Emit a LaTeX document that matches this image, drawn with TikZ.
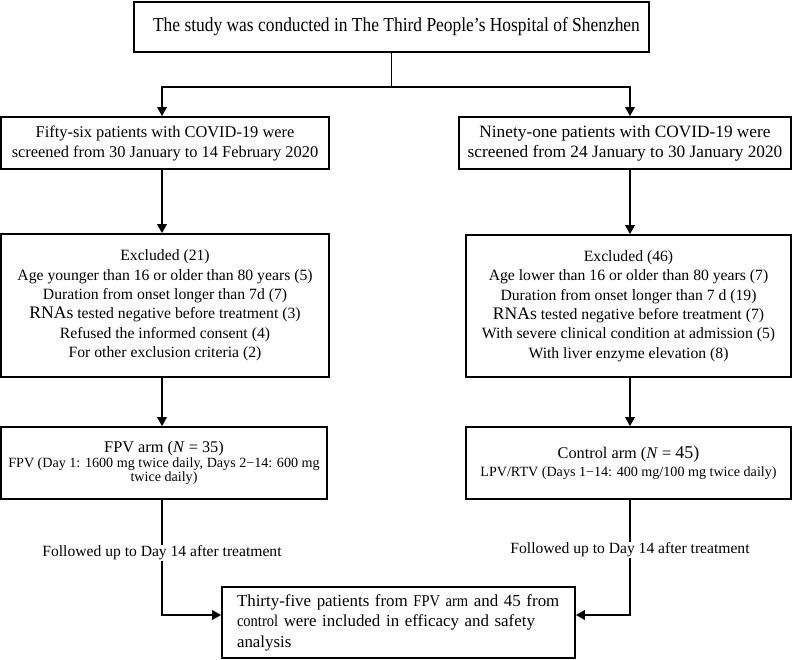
\documentclass[tikz,border=0pt]{standalone}
\usepackage{fontspec}
\setmainfont{Liberation Serif}
\newfontfamily\condf[FakeStretch=0.88]{Liberation Serif}
\usetikzlibrary{arrows.meta,calc}
\newcommand\smalldose{\fontsize{14.1pt}{17pt}\selectfont}
\newcommand\armhead{\fontsize{16.3pt}{19pt}\selectfont}
\newcommand\condsm{\condf\fontsize{16.5pt}{20.5pt}\selectfont}
\begin{document}
\begin{tikzpicture}[x=1pt,y=-1pt,
  box/.style={draw,line width=1.7pt,inner sep=0pt,align=center},
  arr/.style={line width=1.7pt,-{Triangle[length=9pt,width=9.5pt]}},
  lbl/.style={fill=white,inner sep=1pt,font=\fontsize{15.6pt}{19pt}\selectfont}]
\useasboundingbox (0,0) rectangle (792,660);
\coordinate (cl) at (162,0);
\coordinate (cr) at (630,0);

\node[box,minimum width=515pt,minimum height=50pt,font=\condf\fontsize{19.8pt}{23pt}\selectfont] (top) at (391.5,27)
  {\hspace*{10pt}The study was conducted in The Third People’s Hospital of Shenzhen};

\node[box,minimum width=328pt,minimum height=52pt,font=\fontsize{16.4pt}{20pt}\selectfont] (scrL) at (165,143)
  {Fifty-six patients with COVID-19 were\\screened from 30 January to 14 February 2020};
\node[box,minimum width=332pt,minimum height=52pt,font=\fontsize{17.3pt}{20pt}\selectfont] (scrR) at (625,143)
  {Ninety-one patients with COVID-19 were\\screened from 24 January to 30 January 2020};

\node[box,minimum width=328pt,minimum height=143pt,font=\fontsize{15.7pt}{19.4pt}\selectfont] (excL) at (165,305.5)
  {Excluded (21)\\Age younger than 16 or older than 80 years (5)\\Duration from onset longer than 7d (7)\\{\fontsize{17.6pt}{19.4pt}\selectfont RNAs} tested negative before treatment (3)\\Refused the informed consent (4)\\For other exclusion criteria (2)};
\node[box,minimum width=325pt,minimum height=142pt,font=\fontsize{15.7pt}{19.4pt}\selectfont] (excR) at (628.5,306)
  {Excluded (46)\\Age lower than 16 or older than 80 years (7)\\Duration from onset longer than 7 d (19)\\{\fontsize{17.6pt}{19.4pt}\selectfont RNAs} tested negative before treatment (7)\\With severe clinical condition at admission (5)\\With liver enzyme elevation (8)};

\node[box,minimum width=326pt,minimum height=72pt] (fpv) at (164,463)
  {\armhead FPV arm (\textit{N} = 35)\\[1pt]
   \smalldose FPV (Day 1: 1600 mg twice daily, Days 2−14: 600 mg\\\smalldose twice daily)};
\node[box,minimum width=325pt,minimum height=72pt] (ctl) at (628.5,463)
  {\armhead Control arm (\textit{N} = {\fontsize{18pt}{19pt}\selectfont 45)}\\[3pt]
   \smalldose LPV/RTV (Days 1−14: 400 mg/100 mg twice daily)};

\node[box,minimum width=353pt,minimum height=71pt,align=left,text width=323pt,font=\fontsize{16.9pt}{20.5pt}\selectfont] (bot) at (398.5,622.5)
  {Thirty-five patients from {\condsm FPV arm} and 45 from\\{\condsm control} were included in efficacy and safety\\analysis};

\draw[arr] (top.south) -- ++(0,34) -| (cl |- scrL.north);
\draw[arr] (top.south) -- ++(0,34) -| (cr |- scrR.north);
\draw[arr] (cl |- scrL.south) -- (cl |- excL.north);
\draw[arr] (cr |- scrR.south) -- (cr |- excR.north);
\draw[arr] (cl |- excL.south) -- (cl |- fpv.north);
\draw[arr] (cr |- excR.south) -- (cr |- ctl.north);
\draw[arr] (cl |- fpv.south) |- ($(bot.west)+(0,-7.5)$);
\draw[arr] (cr |- ctl.south) |- ($(bot.east)+(0,-7.5)$);

\node[lbl] (fl) at (162,553) {Followed up to Day 14 after treatment};
\node[lbl] (fr) at (630,550) {Followed up to Day 14 after treatment};
\end{tikzpicture}
\end{document}
